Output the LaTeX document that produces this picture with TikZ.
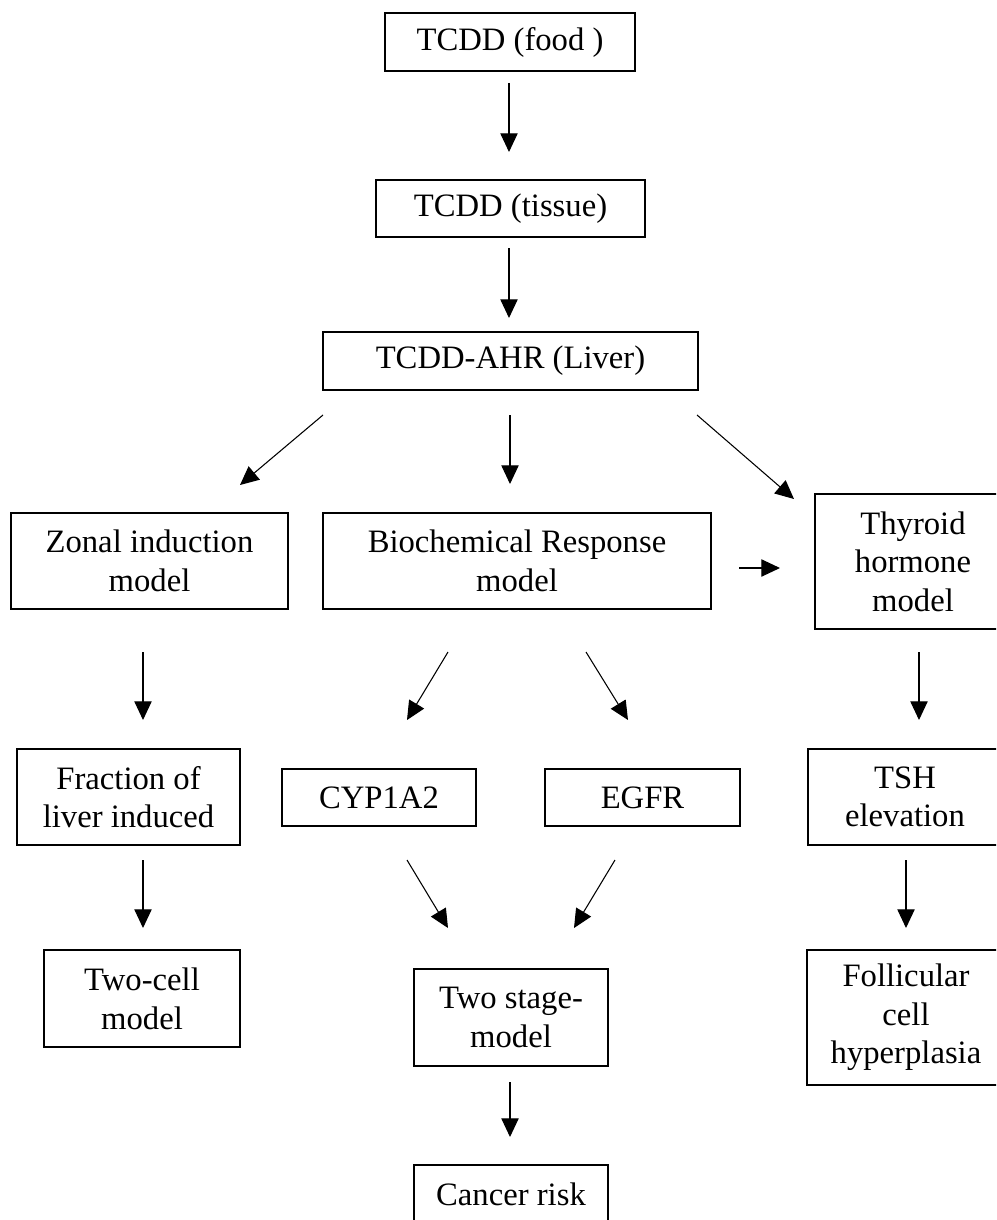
\documentclass[tikz,border=0pt]{standalone}
\usepackage{fontspec}
\setmainfont{Liberation Serif}
\usetikzlibrary{arrows.meta}
\begin{document}
\begin{tikzpicture}[x=0.75pt,y=-0.75pt,
  bx/.style 2 args={draw=black, line width=0.9pt, rectangle, inner sep=0pt,
    align=center, minimum width=#1*0.75pt, minimum height=#2*0.75pt,
    font=\fontsize{24.5}{29}\selectfont},
  arr/.style={line width=0.8pt, -{Triangle[length=14pt,width=13pt]}}]
\useasboundingbox (0,0) rectangle (996,1220);
\clip (0,0) rectangle (996,1220);
% boxes
\node[bx={250}{58}]  (food)       at (510,42)      {TCDD (food )};
\node[bx={269}{57}]  (tissue)     at (510.5,208.5) {TCDD (tissue)};
\node[bx={375}{58}]  (ahr)        at (510.5,361)   {TCDD-AHR (Liver)};
\node[bx={277}{96}]  (zonal)      at (149.5,561)   {Zonal induction\\model};
\node[bx={388}{96}]  (bio)        at (517,561)     {Biochemical Response\\model};
\node[bx={196}{135}] (thyroid)    at (913,561.5)   {Thyroid\\hormone\\model};
\node[bx={223}{96}]  (fraction)   at (128.5,797)   {Fraction of\\liver induced};
\node[bx={194}{57}]  (cyp)        at (379,797.5)   {CYP1A2};
\node[bx={195}{57}]  (egfr)       at (642.5,797.5) {EGFR};
\node[bx={194}{96}]  (tsh)        at (905,797)     {TSH\\elevation};
\node[bx={196}{97}]  (twocell)    at (142,998.5)   {Two-cell\\model};
\node[bx={194}{97}]  (twostage)   at (511,1017.5)  {Two stage-\\model};
\node[bx={198}{135}] (follicular) at (906,1017.5)  {Follicular\\cell\\hyperplasia};
\node[bx={194}{58}]  (cancer)     at (511,1194)    {Cancer risk};
% arrow end points
\coordinate (a1s) at (509,83);   \coordinate (a1e) at (509,152);
\coordinate (a2s) at (509,248);  \coordinate (a2e) at (509,318);
\coordinate (a3s) at (323,415);  \coordinate (a3e) at (240,485);
\coordinate (a4s) at (510,415);  \coordinate (a4e) at (510,484);
\coordinate (a5s) at (697,415);  \coordinate (a5e) at (794,499);
\coordinate (a6s) at (739,568);  \coordinate (a6e) at (780,568);
\coordinate (a7s) at (143,652);  \coordinate (a7e) at (143,720);
\coordinate (a8s) at (448,652);  \coordinate (a8e) at (407,720);
\coordinate (a9s) at (586,652);  \coordinate (a9e) at (628,720);
\coordinate (a10s) at (919,652); \coordinate (a10e) at (919,720);
\coordinate (a11s) at (143,860); \coordinate (a11e) at (143,928);
\coordinate (a12s) at (407,860); \coordinate (a12e) at (448,928);
\coordinate (a13s) at (615,860); \coordinate (a13e) at (574,928);
\coordinate (a14s) at (906,860); \coordinate (a14e) at (906,928);
\coordinate (a15s) at (510,1082); \coordinate (a15e) at (510,1137);
% arrows
\draw[arr] (a1s) -- (a1e);
\draw[arr] (a2s) -- (a2e);
\draw[arr] (a3s) -- (a3e);
\draw[arr] (a4s) -- (a4e);
\draw[arr] (a5s) -- (a5e);
\draw[arr] (a6s) -- (a6e);
\draw[arr] (a7s) -- (a7e);
\draw[arr] (a8s) -- (a8e);
\draw[arr] (a9s) -- (a9e);
\draw[arr] (a10s) -- (a10e);
\draw[arr] (a11s) -- (a11e);
\draw[arr] (a12s) -- (a12e);
\draw[arr] (a13s) -- (a13e);
\draw[arr] (a14s) -- (a14e);
\draw[arr] (a15s) -- (a15e);
\end{tikzpicture}
\end{document}
